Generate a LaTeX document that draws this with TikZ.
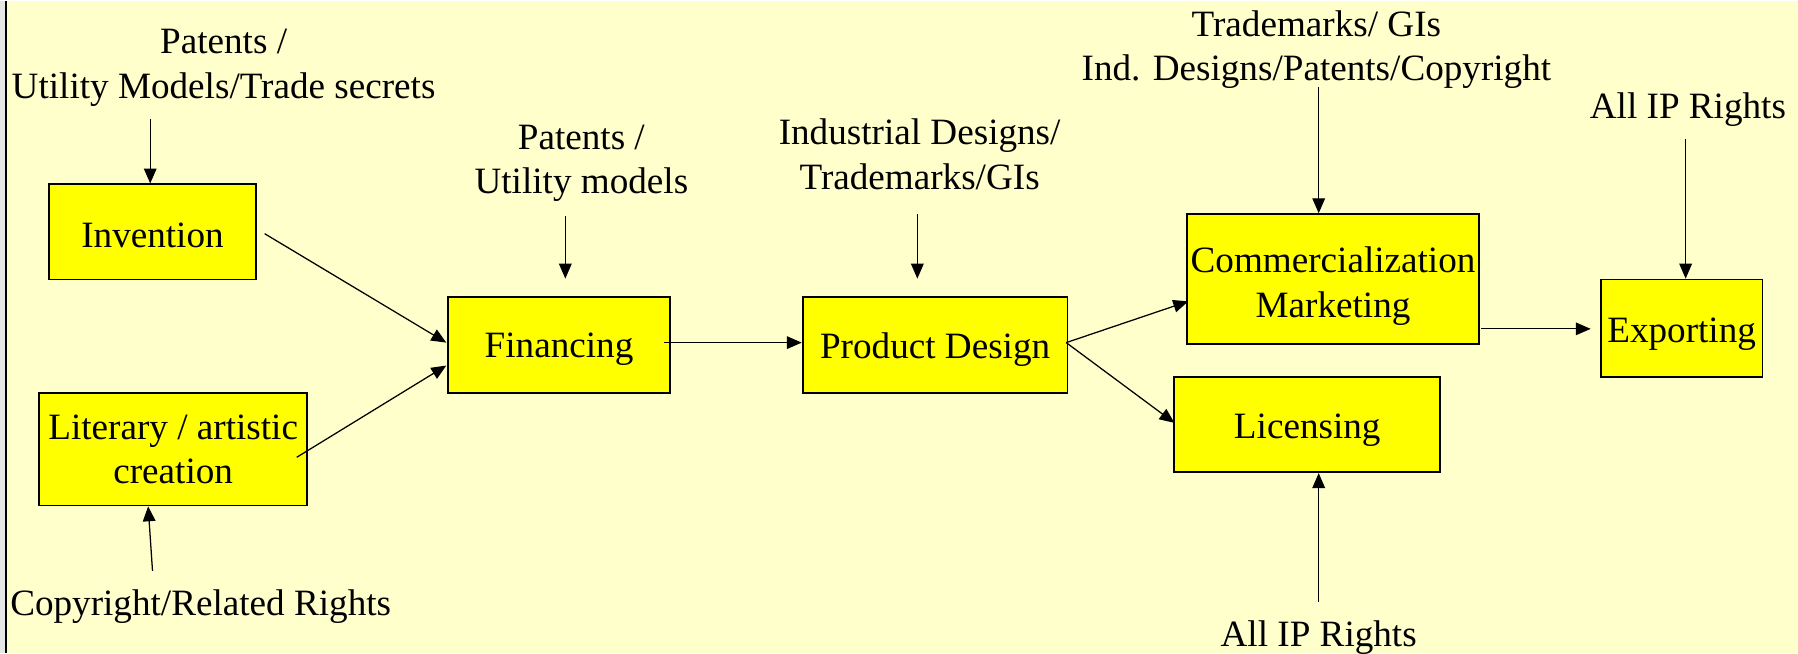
\documentclass[tikz,border=0pt]{standalone}
\usepackage{fontspec}
\setmainfont{Liberation Serif}
\usetikzlibrary{arrows.meta,calc}
\definecolor{paper}{HTML}{FFFFCC}
\definecolor{boxfill}{HTML}{FFFF00}
\definecolor{strip}{HTML}{E6E6E6}
\begin{document}
\begin{tikzpicture}[x=0.5pt,y=-0.5pt,
  txt/.style={font=\fontsize{16.2}{19.5}\selectfont, align=center, inner sep=0pt},
  box/.style={draw=black, line width=0.8pt, fill=boxfill, inner sep=0pt},
  conn/.style={line width=0.55pt, -{Triangle[length=6.5pt,width=5.5pt]}}]
% page background and left edge
\fill[paper] (0,0) rectangle (1568,568.6);
\fill[strip] (0,0) rectangle (5,568.6);
\draw[line width=0.8pt] (5.5,0) -- (5.5,568.6);
\useasboundingbox (0,0) rectangle (1568,568.6);

% process boxes, text set a little below centre
\node[box, minimum width=90pt,   minimum height=41.5pt,
      label={[txt,yshift=-1.5pt]center:Invention}] (inv) at (133,201.5) {};
\node[box, minimum width=117pt,  minimum height=49pt,
      label={[txt]center:Literary / artistic\\creation}] (lit) at (151,391) {};
\node[box, minimum width=96.5pt, minimum height=42pt,
      label={[txt,yshift=-2pt]center:Financing}] (fin) at (487.5,300) {};
\node[box, minimum width=115.5pt,minimum height=42pt,
      label={[txt,yshift=-2pt]center:Product Design}] (pd) at (815.5,300) {};
\node[box, minimum width=127.5pt,minimum height=56.5pt,
      label={[txt,yshift=-3pt]center:Commercialization\\Marketing}] (com) at (1162.5,242.5) {};
\node[box, minimum width=116pt,  minimum height=41.5pt,
      label={[txt,yshift=-2.5pt]center:Licensing}] (lic) at (1140,369.5) {};
\node[box, minimum width=70.5pt, minimum height=42.5pt,
      label={[txt,yshift=-2.5pt]center:Exporting}] (exp) at (1466.5,285.5) {};

% IP rights labels
\node[txt] (tl1) at (195,58.5)  {Patents /\\Utility Models/Trade secrets};
\node[txt] (tl2) at (175,528.5) {Copyright/Related Rights};
\node[txt] (tl3) at (507,141.5) {Patents /\\Utility models};
\node[txt] (tl4) at (802,133.5) {Industrial Designs/\\Trademarks/GIs};
\node[txt] (tl5) at (1148,42.5) {Trademarks/ GIs\\Ind. Designs/Patents/Copyright};
\node[txt] (tl6) at (1150,555)  {All IP Rights};
\node[txt] (tl7) at (1472,95)   {All IP Rights};

% arrows from the labels
\coordinate (s1) at (131,103);
\coordinate (s2) at (133,497);
\coordinate (s3) at (493,188);
\coordinate (s4) at (800,186);
\coordinate (s5) at (1150,75);
\coordinate (s6) at (1150,524);
\coordinate (s7) at (1470,120);
\draw[conn] (s1) -- (s1 |- inv.north);
\draw[conn] (s2) -- ($(lit.south west)+(96,0)$);
\draw[conn] (s3) -- ($(s3 |- fin.north)+(0,-15)$);
\draw[conn] (s4) -- ($(s4 |- pd.north)+(0,-15)$);
\draw[conn] (s5) -- (s5 |- com.north);
\draw[conn] (s6) -- (s6 |- lic.south);
\draw[conn] (s7) -- (s7 |- exp.north);

% flow between the boxes
\draw[conn] ($(inv.east)+(7,1.5)$) -- ($(fin.west)+(-1,-2)$);
\draw[conn] ($(lit.east)+(-10,7)$) -- ($(fin.west)+(-1,18)$);
\draw[conn] ($(fin.east)+(-6,-2)$) -- ($(pd.west)+(0,-2)$);
\draw[conn] ($(pd.east)+(-2,-2)$) -- ($(com.west)+(2,19.5)$);
\draw[conn] ($(pd.east)+(-2,-2)$) -- ($(lic.west)+(1,-1.5)$);
\draw[conn] ($(com.east)+(1,43.5)$) -- ($(exp.west)+(-8,0.5)$);
\end{tikzpicture}
\end{document}
